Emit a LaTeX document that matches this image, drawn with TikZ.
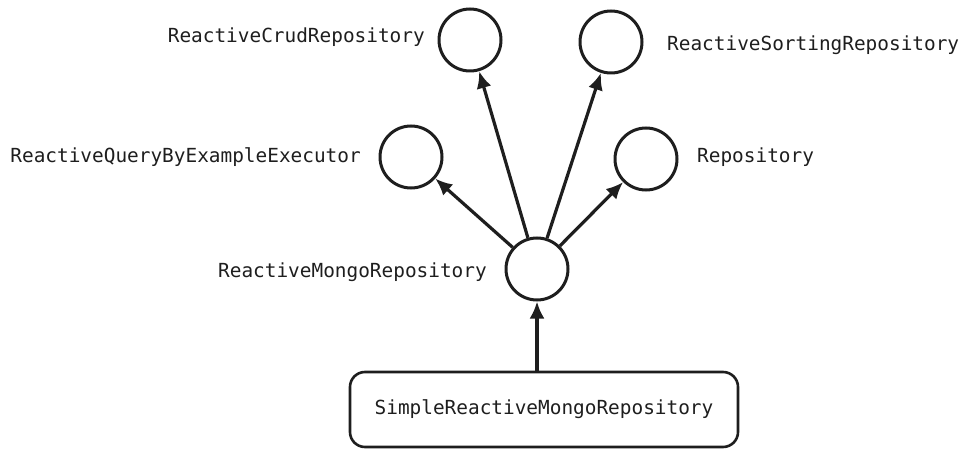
\documentclass[tikz,border=0pt]{standalone}
\usepackage{fontspec}
\setmonofont{DejaVu Sans Mono}
\usetikzlibrary{arrows.meta, positioning}

\begin{document}
\begin{tikzpicture}[
    every node/.style={font=\ttfamily\fontsize{19.4}{23}\selectfont, text=inkTone},
    iface/.style={
      circle, draw=inkTone, line width=3pt,
      minimum size=62pt, inner sep=0pt
    },
    impl/.style={
      rectangle, rounded corners=15pt,
      draw=inkTone, line width=2.6pt,
      minimum width=388pt, minimum height=75pt
    },
    tag/.style={inner sep=0pt},
    ext/.style={-{Latex[length=17pt, width=15pt]}, draw=inkTone, line width=3.2pt}
  ]
    \definecolor{inkTone}{RGB}{30,30,30}

    \useasboundingbox (0pt,0pt) rectangle (969pt,-457pt);

    \node[iface] (crud) at (470pt,-40pt) {};
    \node[iface] (sorting) at (611pt,-42pt) {};
    \node[iface] (qbe) at (411pt,-157pt) {};
    \node[iface] (repo) at (646pt,-159pt) {};
    \node[iface] (mongo) at (537pt,-269pt) {};
    \node[impl] (simple) at (544pt,-409.5pt) {SimpleReactiveMongoRepository};

    \node[tag, anchor=east] (crudLabel) at (425pt,-37pt) {ReactiveCrudRepository};
    \node[tag, anchor=west] (sortingLabel) at (667pt,-45pt) {ReactiveSortingRepository};
    \node[tag, anchor=east] (qbeLabel) at (361pt,-157pt) {ReactiveQueryByExampleExecutor};
    \node[tag, anchor=west] (repoLabel) at (697pt,-157pt) {Repository};
    \node[tag, anchor=east] (mongoLabel) at (487pt,-272pt) {ReactiveMongoRepository};

    \draw[ext] (mongo) -- (crud);
    \draw[ext] (mongo) -- (sorting);
    \draw[ext] (mongo) -- (qbe);
    \draw[ext] (mongo) -- (repo);
    \draw[ext] (simple.north -| mongo.south) -- (mongo.south);
  \end{tikzpicture}
\end{document}
